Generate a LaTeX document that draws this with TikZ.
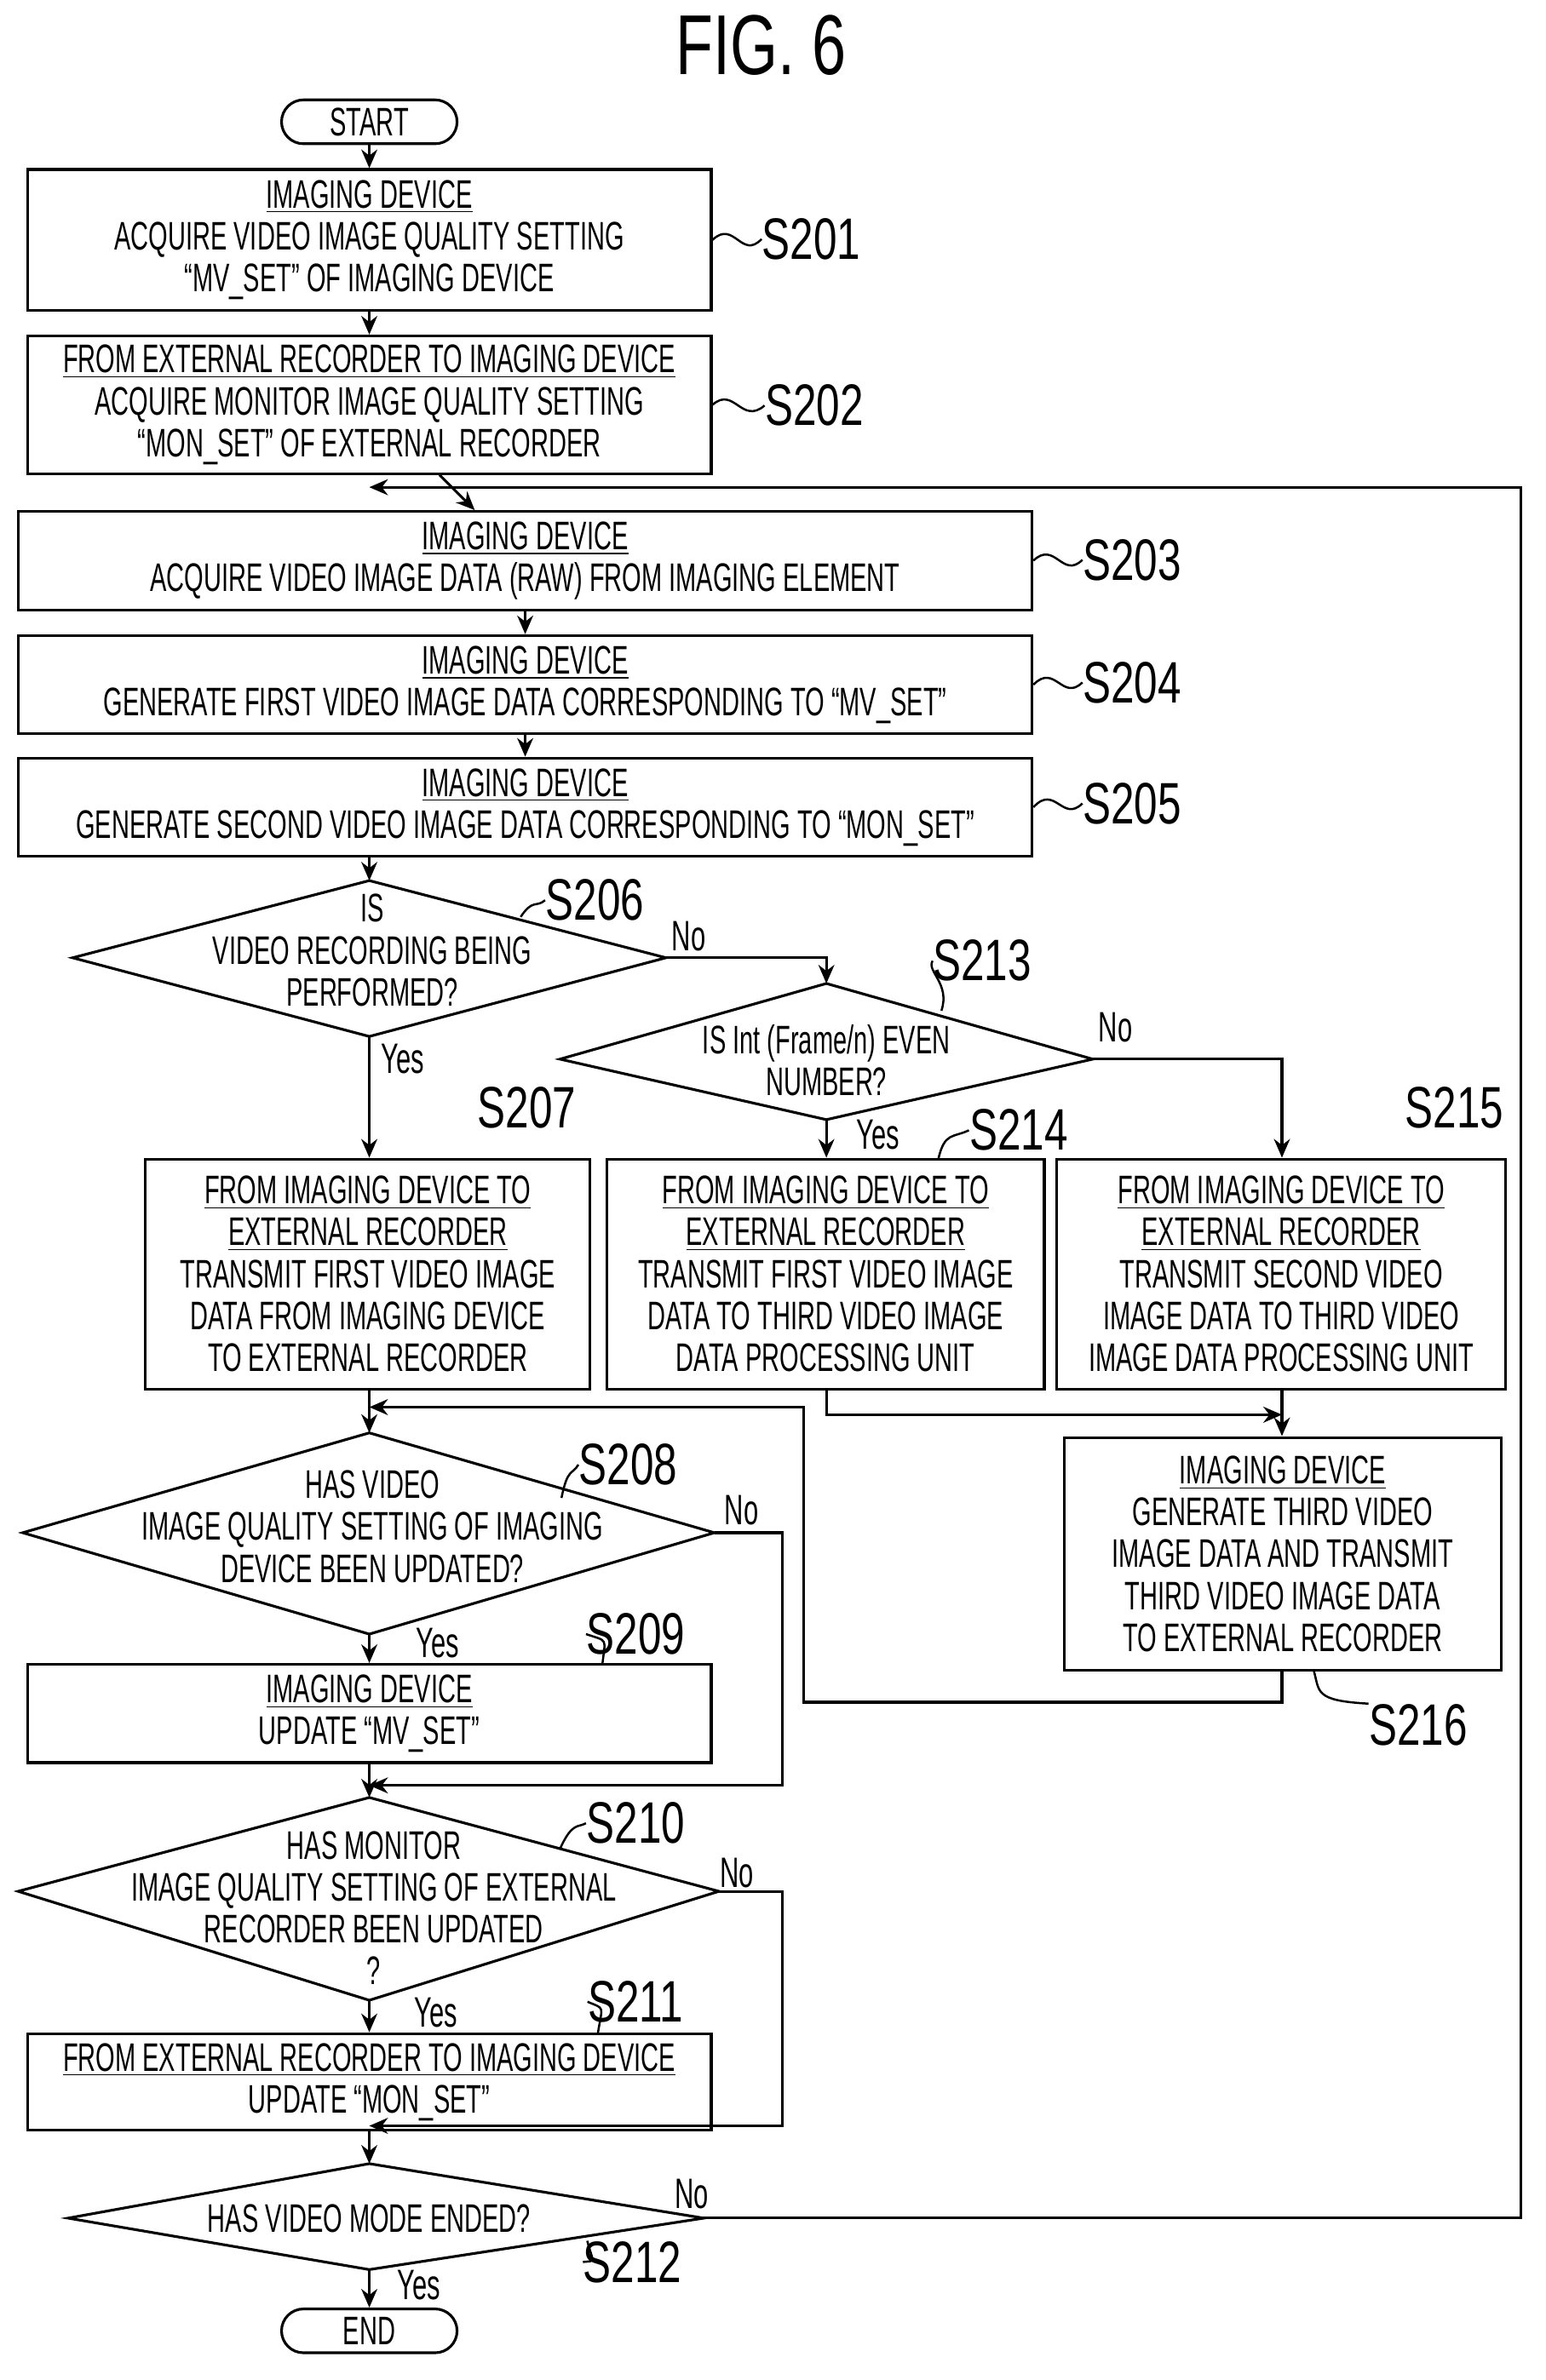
\documentclass[tikz,border=0pt]{standalone}
\usepackage{fontspec}
\setmainfont{Liberation Sans}[FakeStretch=0.62]
\newfontfamily\labfont{Liberation Sans}[FakeStretch=0.72]
\usetikzlibrary{arrows.meta}
\begin{document}
\begin{tikzpicture}[x=0.02cm,y=-0.02cm,
  every node/.style={font=\fontsize{15}{15.8}\selectfont, inner sep=0pt, align=center},
  box/.style={draw, line width=1pt},
  term/.style={draw, line width=1pt, rounded corners=0.29cm, minimum width=2.32cm, minimum height=0.58cm},
  ln/.style={line width=1pt},
  arr/.style={line width=1pt, -{Stealth[length=7pt,width=6pt]}},
  lab/.style={font=\labfont\fontsize{22}{22}\selectfont},
  yn/.style={font=\fontsize{16}{16}\selectfont},
  lead/.style={line width=0.8pt}]
\useasboundingbox (0,0) rectangle (1021,1573);
\node[font=\labfont\fontsize{32}{32}\selectfont] (title) at (503,30) {FIG. 6};
\node[term] (start) at (244,80.5) {START};
\node[box, minimum width=9.04cm, minimum height=1.86cm] (s201) at (244,158.5) {\underline{IMAGING DEVICE}\\ACQUIRE VIDEO IMAGE QUALITY SETTING\\``MV\_SET'' OF IMAGING DEVICE};
\node[box, minimum width=9.04cm, minimum height=1.82cm] (s202) at (244,267.5) {\underline{FROM EXTERNAL RECORDER TO IMAGING DEVICE}\\ACQUIRE MONITOR IMAGE QUALITY SETTING\\``MON\_SET'' OF EXTERNAL RECORDER};
\node[box, minimum width=13.4cm, minimum height=1.3cm] (s203) at (347,370.5) {\underline{IMAGING DEVICE}\\ACQUIRE VIDEO IMAGE DATA (RAW) FROM IMAGING ELEMENT};
\node[box, minimum width=13.4cm, minimum height=1.3cm] (s204) at (347,452.5) {\underline{IMAGING DEVICE}\\GENERATE FIRST VIDEO IMAGE DATA CORRESPONDING TO ``MV\_SET''};
\node[box, minimum width=13.4cm, minimum height=1.3cm] (s205) at (347,533.5) {\underline{IMAGING DEVICE}\\GENERATE SECOND VIDEO IMAGE DATA CORRESPONDING TO ``MON\_SET''};
% diamonds
\coordinate (d6t) at (244,582); \coordinate (d6l) at (48,633); \coordinate (d6b) at (244,685); \coordinate (d6r) at (440,633);
\draw[ln] (d6t) -- (d6r) -- (d6b) -- (d6l) -- cycle;
\node (t206) at (246,628) {IS\\VIDEO RECORDING BEING\\PERFORMED?};
\coordinate (d13t) at (546,650); \coordinate (d13l) at (370,700); \coordinate (d13b) at (546,740); \coordinate (d13r) at (722,700);
\draw[ln] (d13t) -- (d13r) -- (d13b) -- (d13l) -- cycle;
\node (t213) at (546,701) {IS Int (Frame/n) EVEN\\NUMBER?};
\node[box, minimum width=5.88cm, minimum height=3.04cm] (s207) at (243,842) {\underline{FROM IMAGING DEVICE TO}\\\underline{EXTERNAL RECORDER}\\TRANSMIT FIRST VIDEO IMAGE\\DATA FROM IMAGING DEVICE\\TO EXTERNAL RECORDER};
\node[box, minimum width=5.78cm, minimum height=3.04cm] (s214) at (545.5,842) {\underline{FROM IMAGING DEVICE TO}\\\underline{EXTERNAL RECORDER}\\TRANSMIT FIRST VIDEO IMAGE\\DATA TO THIRD VIDEO IMAGE\\DATA PROCESSING UNIT};
\node[box, minimum width=5.94cm, minimum height=3.04cm] (s215) at (846.5,842) {\underline{FROM IMAGING DEVICE TO}\\\underline{EXTERNAL RECORDER}\\TRANSMIT SECOND VIDEO\\IMAGE DATA TO THIRD VIDEO\\IMAGE DATA PROCESSING UNIT};
\node[box, minimum width=5.78cm, minimum height=3.08cm] (s216) at (847.5,1027) {\underline{IMAGING DEVICE}\\GENERATE THIRD VIDEO\\IMAGE DATA AND TRANSMIT\\THIRD VIDEO IMAGE DATA\\TO EXTERNAL RECORDER};
\coordinate (d8t) at (244,947); \coordinate (d8l) at (15,1013); \coordinate (d8b) at (244,1080); \coordinate (d8r) at (472,1013);
\draw[ln] (d8t) -- (d8r) -- (d8b) -- (d8l) -- cycle;
\node (t208) at (246,1009) {HAS VIDEO\\IMAGE QUALITY SETTING OF IMAGING\\DEVICE BEEN UPDATED?};
\node[box, minimum width=9.04cm, minimum height=1.3cm] (s209) at (244,1132.5) {\underline{IMAGING DEVICE}\\UPDATE ``MV\_SET''};
\coordinate (d10t) at (244,1188); \coordinate (d10l) at (12,1250); \coordinate (d10b) at (244,1322); \coordinate (d10r) at (475,1250);
\draw[ln] (d10t) -- (d10r) -- (d10b) -- (d10l) -- cycle;
\node (t210) at (247,1261) {HAS MONITOR\\IMAGE QUALITY SETTING OF EXTERNAL\\RECORDER BEEN UPDATED\\?};
\node[box, minimum width=9.04cm, minimum height=1.28cm] (s211) at (244,1376) {\underline{FROM EXTERNAL RECORDER TO IMAGING DEVICE}\\UPDATE ``MON\_SET''};
\coordinate (d12t) at (244,1430); \coordinate (d12l) at (45,1466); \coordinate (d12b) at (244,1500); \coordinate (d12r) at (465,1466);
\draw[ln] (d12t) -- (d12r) -- (d12b) -- (d12l) -- cycle;
\node (t212) at (244,1466) {HAS VIDEO MODE ENDED?};
\node[term] (end) at (244,1540.5) {END};
% junction coordinates
\coordinate (j3) at (244,322); \coordinate (j8) at (244,930); \coordinate (j10) at (244,1180); \coordinate (j12) at (244,1405); \coordinate (j16) at (847,935);
% connectors
\draw[arr] (start) -- (s201);
\draw[arr] (s201) -- (s202);
\draw[arr] (s202) -- (s203);
\draw[arr] (s203) -- (s204);
\draw[arr] (s204) -- (s205);
\draw[arr] (s205.south -| d6t) -- (d6t);
\draw[arr] (d6r) -- (546,633) -- (d13t);
\draw[arr] (d6b) -- (s207.north -| d6b);
\draw[arr] (d13b) -- (s214.north -| d13b);
\draw[arr] (d13r) -- (847,700) -- (s215.north -| 847,0);
\draw[arr] (s207.south -| j8) -- (d8t);
\draw[arr] (s214.south -| 546,0) -- (546,935) -- (j16);
\draw[arr] (s215.south -| j16) -- (s216.north -| j16);
\draw[arr] (s216.south -| j16) -- (847,1125) -- (531,1125) -- (531,930) -- (j8);
\draw[arr] (d8b) -- (s209.north -| d8b);
\draw[arr] (d8r) -- (517,1013) -- (517,1180) -- (j10);
\draw[arr] (s209.south -| d10t) -- (d10t);
\draw[arr] (d10b) -- (s211.north -| d10b);
\draw[arr] (d10r) -- (517,1250) -- (517,1405) -- (j12);
\draw[arr] (s211.south -| d12t) -- (d12t);
\draw[arr] (d12b) -- (end);
\draw[arr] (d12r) -- (1005,1466) -- (1005,322) -- (j3);
% yes/no
\node[yn] (n6) at (455,619) {No};
\node[yn] (y6) at (266,700) {Yes};
\node[yn] (n13) at (737,679) {No};
\node[yn] (y13) at (580,750) {Yes};
\node[yn] (n8) at (490,998) {No};
\node[yn] (y8) at (289,1086) {Yes};
\node[yn] (n10) at (487,1238) {No};
\node[yn] (y10) at (288,1330) {Yes};
\node[yn] (n12) at (457,1450) {No};
\node[yn] (y12) at (277,1510) {Yes};
% step labels
\node[lab] (l201) at (536,158) {S201};
\draw[lead] (s201.east) .. controls (485,145) and (490,172) .. (l201.west);
\node[lab] (l202) at (538,268) {S202};
\draw[lead] (s202.east) .. controls (485,255) and (490,281) .. (l202.west);
\node[lab] (l203) at (748,370) {S203};
\draw[lead] (s203.east) .. controls (697,357) and (702,383) .. (l203.west);
\node[lab] (l204) at (748,451) {S204};
\draw[lead] (s204.east) .. controls (697,438) and (702,464) .. (l204.west);
\node[lab] (l205) at (748,531) {S205};
\draw[lead] (s205.east) .. controls (697,518) and (702,544) .. (l205.west);
\node[lab] (l206) at (393,595) {S206};
\draw[lead] (344,606) .. controls (352,594) and (354,600) .. (l206.west);
\node[lab] (l213) at (649,635) {S213};
\draw[lead] (622,668) .. controls (628,650) and (612,642) .. (l213.west);
\node[lab] (l207) at (348,732) {S207};
\node[lab] (l214) at (673,747) {S214};
\draw[lead] (620,766) .. controls (624,748) and (630,752) .. (l214.west);
\node[lab] (l215) at (961,732) {S215};
\node[lab] (l208) at (415,968) {S208};
\draw[lead] (371,990) .. controls (375,970) and (378,975) .. (l208.west);
\node[lab] (l209) at (420,1080) {S209};
\draw[lead] (398,1100) .. controls (400,1082) and (402,1085) .. (l209.west);
\node[lab] (l210) at (420,1205) {S210};
\draw[lead] (370,1222) .. controls (378,1204) and (382,1208) .. (l210.west);
\node[lab] (l211) at (420,1323) {S211};
\draw[lead] (395,1344) .. controls (398,1325) and (400,1328) .. (l211.west);
\node[lab] (l212) at (418,1495) {S212};
\draw[lead] (388,1481) .. controls (392,1496) and (394,1494) .. (l212.west);
\node[lab] (l216) at (937,1140) {S216};
\draw[lead] (868,1104) .. controls (872,1118) and (868,1124) .. (l216.north west);
\end{tikzpicture}
\end{document}
